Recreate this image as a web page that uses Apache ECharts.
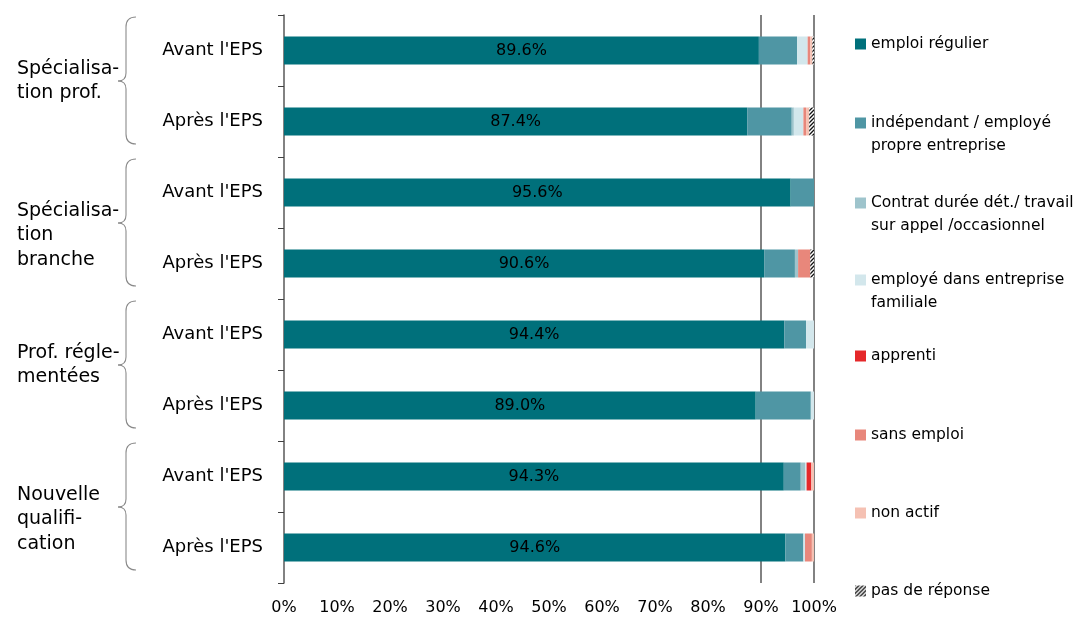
<!DOCTYPE html>
<html><head><meta charset="utf-8">
<script src="https://cdn.jsdelivr.net/npm/echarts@6/dist/echarts.min.js"></script>
<style>html,body{margin:0;padding:0;background:#fff}#c{width:1075px;height:622px}</style>
</head><body><div id="c"></div>
<script>
// ---------- DATA ----------
const groupLabels = ["Spécialisa-\ntion prof.", "Spécialisa-\ntion\nbranche", "Prof. régle-\nmentées", "Nouvelle\nqualifi-\ncation"];
const phaseLabels = ["Avant l'EPS", "Après l'EPS"];
const seriesNames = ["emploi régulier", "indépendant / employé\npropre entreprise", "Contrat durée dét./ travail\nsur appel /occasionnel", "employé dans entreprise\nfamiliale", "apprenti", "sans emploi", "non actif", "pas de réponse"];
const emploiRegulier = [89.6, 87.4, 95.6, 90.6, 94.4, 89.0, 94.3, 94.6];
const independant    = [7.2, 8.4, 4.4, 5.8, 4.1, 10.4, 3.2, 3.4];
const contratDuree   = [0, 0.4, 0, 0.6, 0, 0, 0.8, 0];
const entrepriseFam  = [2.0, 1.8, 0, 0, 1.5, 0.6, 0.3, 0.3];
const apprenti       = [0, 0, 0, 0, 0, 0, 0.9, 0];
const sansEmploi     = [0.5, 0.5, 0, 2.3, 0, 0, 0, 1.3];
const nonActif       = [0.4, 0.6, 0, 0, 0, 0, 0.5, 0.4];
const pasDeReponse   = [0.3, 0.9, 0, 0.7, 0, 0, 0, 0];
const xRefLines = [90, 100];

// ---------- STYLE / LAYOUT ----------
const FONT = "DejaVu Sans";
const seriesData = [emploiRegulier, independant, contratDuree, entrepriseFam, apprenti, sansEmploi, nonActif, pasDeReponse];
function hatch() {
  const c = document.createElement('canvas'); c.width = 4; c.height = 4;
  const x = c.getContext('2d');
  x.fillStyle = '#fff'; x.fillRect(0, 0, 4, 4);
  x.strokeStyle = '#111'; x.lineWidth = 1.3; x.beginPath();
  x.moveTo(0, 4); x.lineTo(4, 0);
  x.moveTo(-1, 1); x.lineTo(1, -1);
  x.moveTo(3, 5); x.lineTo(5, 3);
  x.stroke();
  return c;
}
const colors = ['#00707B', '#4F96A4', '#9EC4CC', '#D3E7EC', '#E5282A', '#E8877B', '#F5C1B3', { image: hatch(), repeat: 'repeat' }];
const legendCenters = [44, 123, 203, 280, 356, 435, 513, 591];

const rowKeys = [];
groupLabels.forEach((g, gi) => phaseLabels.forEach(p => rowKeys.push(gi + '|' + p)));

const series = seriesData.map((d, i) => ({
  name: seriesNames[i], type: 'bar', stack: 'total', barWidth: 28, data: d,
  itemStyle: { color: colors[i] },
  emphasis: { disabled: true },
  label: i === 0 ? { show: true, position: 'inside', color: '#000', fontSize: 16, fontFamily: FONT,
    formatter: p => p.value.toFixed(1) + '%' } : { show: false }
}));
series.push({
  type: 'line', data: [], z: 1, silent: true,
  markLine: { z: 1, silent: true, symbol: 'none', label: { show: false },
    lineStyle: { color: '#595959', width: 1.5, type: 'solid' },
    data: xRefLines.map(v => ({ xAxis: v })) }
});

const legends = seriesNames.map((n, i) => {
  const multi = n.indexOf('\n') >= 0;
  return {
    data: [n], left: 855, top: legendCenters[i] - (multi ? 34.5 : 11.5),
    icon: 'rect', itemWidth: 11, itemHeight: 11, padding: 0, itemGap: 0, selectedMode: false,
    textStyle: { fontSize: 15.5, lineHeight: 23, color: '#000', fontFamily: FONT },
    formatter: nm => (nm.indexOf('\n') >= 0 ? '\n' + nm : nm)
  };
});

const option = {
  animation: false,
  backgroundColor: '#fff',
  grid: { left: 284, right: 261, top: 15, bottom: 39, outerBoundsMode: 'none' },
  legend: legends,
  xAxis: {
    type: 'value', min: 0, max: 100, interval: 10,
    axisLine: { show: false }, axisTick: { show: false }, splitLine: { show: false },
    axisLabel: { formatter: '{value}%', fontSize: 16, color: '#000', margin: 17, fontFamily: FONT }
  },
  yAxis: {
    type: 'category', inverse: true, data: rowKeys,
    axisLine: { show: true, lineStyle: { color: '#595959', width: 1.5 } },
    axisTick: { show: true, length: 6, lineStyle: { color: '#404040' } },
    axisLabel: { formatter: v => v.split('|')[1], fontSize: 18, color: '#000', margin: 21, fontFamily: FONT }
  },
  series: series
};

const chart = echarts.init(document.getElementById('c'));
chart.setOption(option);

// group braces and labels placed from axis positions
const graphics = [];
const braceStyle = { stroke: '#8A8A8A', fill: null, lineWidth: 1.1 };
function curve(x1, y1, cx, cy, x2, y2) {
  graphics.push({ type: 'bezierCurve', silent: true,
    shape: { x1: x1, y1: y1, cpx1: cx, cpy1: cy, x2: x2, y2: y2 }, style: braceStyle });
}
function seg(x1, y1, x2, y2) {
  graphics.push({ type: 'line', silent: true, shape: { x1: x1, y1: y1, x2: x2, y2: y2 }, style: braceStyle });
}
groupLabels.forEach((g, gi) => {
  const y0 = chart.convertToPixel({ yAxisIndex: 0 }, 2 * gi);
  const y1 = chart.convertToPixel({ yAxisIndex: 0 }, 2 * gi + 1);
  const mid = (y0 + y1) / 2;
  const top = mid - 69, bot = mid + 58, tip = mid - 5;
  const xv = 126, xt = 118, xe = 136;
  curve(xe, top, xv, top, xv, top + 10);
  seg(xv, top + 10, xv, tip - 8);
  curve(xv, tip - 8, xv, tip, xt, tip);
  curve(xt, tip, xv, tip, xv, tip + 8);
  seg(xv, tip + 8, xv, bot - 10);
  curve(xv, bot - 10, xv, bot, xe, bot);
  graphics.push({ type: 'text', silent: true, x: 17, y: mid - 17 - 12.25,
    style: { text: g, fontSize: 19, lineHeight: 24.5, fill: '#000', fontFamily: FONT, verticalAlign: 'top' } });
});
chart.setOption({ graphic: graphics });
</script>
</body></html>
